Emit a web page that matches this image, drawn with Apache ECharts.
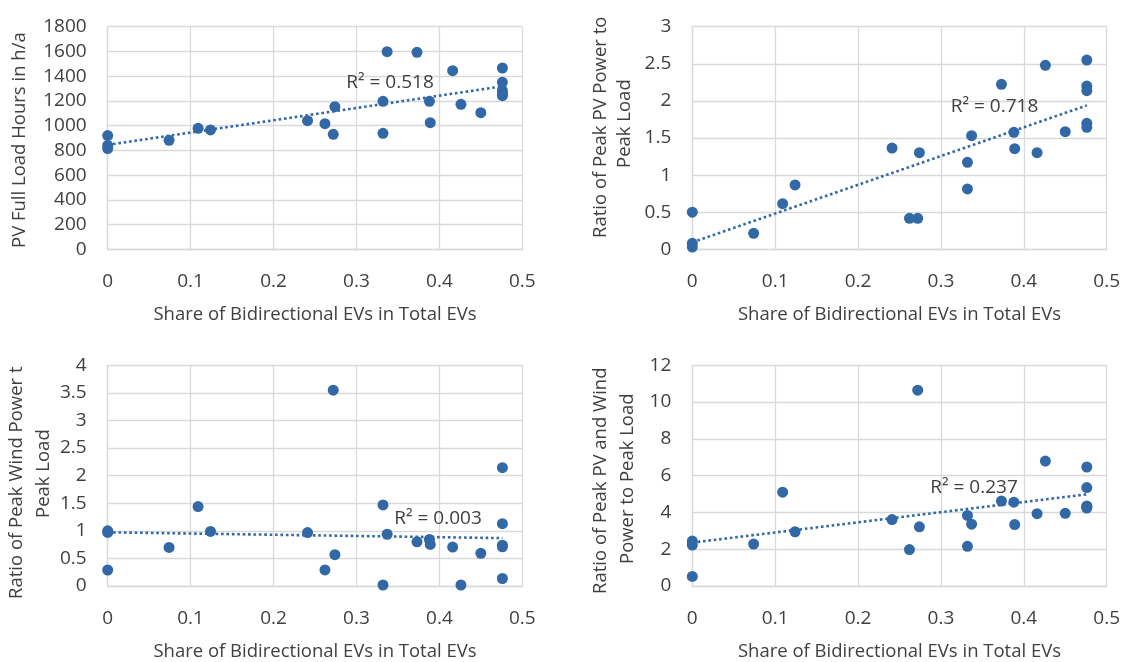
<!DOCTYPE html>
<html>
<head>
<meta charset="utf-8">
<script src="https://cdn.jsdelivr.net/npm/echarts@6/dist/echarts.min.js"></script>
<style>
  html, body { margin: 0; padding: 0; background: #ffffff; }
  #chart { width: 1126px; height: 662px; }
</style>
</head>
<body>
<div id="chart"></div>
<script>
// Share of bidirectional EVs per scenario (x-values, shared by all four panels)
const shares = [0, 0, 0, 0.074, 0.109, 0.124, 0.241, 0.262, 0.272, 0.274, 0.332, 0.332,
                0.337, 0.373, 0.388, 0.389, 0.416, 0.426, 0.450, 0.476, 0.476, 0.476, 0.476, 0.476];

// PV full load hours (h/a)
const pvFullLoadHours = [920, 840, 815, 881, 978, 965, 1040, 1016, 930, 1153, 1197, 938,
                         1598, 1593, 1197, 1024, 1444, 1172, 1105, 1466, 1350, 1283, 1260, 1242];

// Ratio of peak PV power to peak load
const pvPeakRatio = [0.50, 0.08, 0.03, 0.216, 0.615, 0.867, 1.365, 0.418, 0.418, 1.302, 1.172, 0.813,
                     1.531, 2.224, 1.577, 1.356, 1.302, 2.48, 1.585, 2.551, 2.20, 2.137, 1.698, 1.644];

// Ratio of peak wind power to peak load
const windPeakRatio = [1.00, 0.97, 0.29, 0.70, 1.44, 0.99, 0.969, 0.292, 3.55, 0.567, 1.47, 0.018,
                       0.938, 0.80, 0.843, 0.753, 0.705, 0.018, 0.592, 2.145, 1.13, 0.74, 0.71, 0.136];

// Ratio of peak PV + wind power to peak load
const pvWindPeakRatio = [2.44, 2.225, 0.52, 2.28, 5.10, 2.95, 3.61, 1.98, 10.65, 3.22, 3.84, 2.155,
                         3.36, 4.62, 4.56, 3.34, 3.93, 6.79, 3.95, 6.47, 5.35, 4.35, 4.24, 4.30];

// Coefficients of determination shown next to each trendline
const rSquaredLabels = ['R\u00B2 = 0.518', 'R\u00B2 = 0.718', 'R\u00B2 = 0.003', 'R\u00B2 = 0.237'];

const xAxisTitle = 'Share of Bidirectional EVs in Total EVs';
const yAxisTitles = [
  ['PV Full Load Hours in h/a'],
  ['Ratio of Peak PV Power to', 'Peak Load'],
  ['Ratio of Peak Wind Power to', 'Peak Load'],
  ['Ratio of Peak PV and Wind', 'Power to Peak Load']
];
const yRanges = [
  { min: 0, max: 1800, interval: 200 },
  { min: 0, max: 3, interval: 0.5 },
  { min: 0, max: 4, interval: 0.5 },
  { min: 0, max: 12, interval: 2 }
];

const BLUE = '#3268a6';
const TEXT = '#404040';
const GRIDC = '#d9d9d9';
const FONT = '"Open Sans", "Noto Sans", sans-serif';
const TICK_SIZE = 19;
const TITLE_SIZE = 18.5;

// Least-squares linear trendline between the smallest and largest x
function trendline(xs, ys) {
  const n = xs.length;
  let sx = 0, sy = 0, sxx = 0, sxy = 0;
  for (let i = 0; i < n; i++) { sx += xs[i]; sy += ys[i]; sxx += xs[i] * xs[i]; sxy += xs[i] * ys[i]; }
  const b = (n * sxy - sx * sy) / (n * sxx - sx * sx);
  const a = (sy - b * sx) / n;
  const x0 = Math.min.apply(null, xs), x1 = Math.max.apply(null, xs);
  return [[x0, a + b * x0], [x1, a + b * x1]];
}

const panels = [pvFullLoadHours, pvPeakRatio, windPeakRatio, pvWindPeakRatio];

const grids = [
  { left: 107.7, top: 26.7, width: 414.6, height: 222.6 },
  { left: 692.3, top: 26.7, width: 414.4, height: 222.6 },
  { left: 107.7, top: 365.3, width: 414.6, height: 223 },
  { left: 692.3, top: 365.3, width: 414.4, height: 222.7 }
];

const plainNumber = v => String(Math.round(v * 1000) / 1000);

const xAxes = grids.map((g, i) => ({
  gridIndex: i, type: 'value', min: 0, max: 0.5, interval: 0.1,
  name: xAxisTitle, nameLocation: 'middle', nameGap: 56,
  nameTextStyle: { color: TEXT, fontSize: TITLE_SIZE, fontFamily: FONT },
  axisLine: { show: true, lineStyle: { color: GRIDC, width: 1.3 } },
  axisTick: { show: false },
  axisLabel: { color: TEXT, fontSize: TICK_SIZE, fontFamily: FONT, margin: 23, formatter: plainNumber },
  splitLine: { show: true, lineStyle: { color: GRIDC, width: 1.3 } }
}));

const yAxes = grids.map((g, i) => Object.assign({
  gridIndex: i, type: 'value',
  axisLine: { show: true, lineStyle: { color: GRIDC, width: 1.3 } },
  axisTick: { show: false },
  axisLabel: { color: TEXT, fontSize: TICK_SIZE, fontFamily: FONT, margin: 21, formatter: plainNumber },
  splitLine: { show: true, lineStyle: { color: GRIDC, width: 1.3 } }
}, yRanges[i]));

const series = [];
panels.forEach((ys, i) => {
  series.push({
    type: 'scatter', xAxisIndex: i, yAxisIndex: i,
    symbol: 'circle', symbolSize: 11,
    itemStyle: { color: BLUE, opacity: 1 },
    data: shares.map((x, k) => [x, ys[k]]),
    z: 3
  });
  series.push({
    type: 'line', xAxisIndex: i, yAxisIndex: i,
    data: trendline(shares, ys),
    showSymbol: false, symbol: 'none',
    lineStyle: { color: BLUE, width: 2.6, type: [2.6, 2.8] },
    silent: true, z: 4
  });
});

// Y-axis titles (rotated, reading bottom to top), and R² annotations
const graphic = [];
const yTitleLayout = [
  [{ x: 20, y: 248 }],
  [{ x: 601, y: 238 }, { x: 625, y: 168 }],
  [{ x: 17, y: 599 }, { x: 43.5, y: 518 }],
  [{ x: 601, y: 594 }, { x: 628, y: 564 }]
];
yAxisTitles.forEach((lines, i) => {
  lines.forEach((txt, j) => {
    const pos = yTitleLayout[i][j];
    const style = {
      text: txt, x: 0, y: 0, fill: TEXT, fontSize: TITLE_SIZE, fontFamily: FONT,
      textAlign: 'left', textVerticalAlign: 'middle'
    };
    if (i === 2 && j === 0) {
      // the title box cuts off the end of this line
      style.width = 240; style.overflow = 'truncate'; style.ellipsis = '';
    }
    graphic.push({ type: 'text', x: pos.x, y: pos.y, rotation: Math.PI / 2, style: style, z: 10 });
  });
});

const rSquaredPos = [[390, 83], [994.5, 107], [438, 519], [974, 488]];
rSquaredLabels.forEach((t, i) => {
  graphic.push({
    type: 'text', x: rSquaredPos[i][0], y: rSquaredPos[i][1],
    style: { text: t, x: 0, y: 0, fill: TEXT, fontSize: 19, fontFamily: FONT,
             textAlign: 'center', textVerticalAlign: 'middle' },
    z: 10
  });
});

const chart = echarts.init(document.getElementById('chart'), null, { renderer: 'canvas' });
chart.setOption({
  animation: false,
  backgroundColor: '#ffffff',
  grid: grids,
  xAxis: xAxes,
  yAxis: yAxes,
  series: series,
  graphic: graphic
});
</script>
</body>
</html>
